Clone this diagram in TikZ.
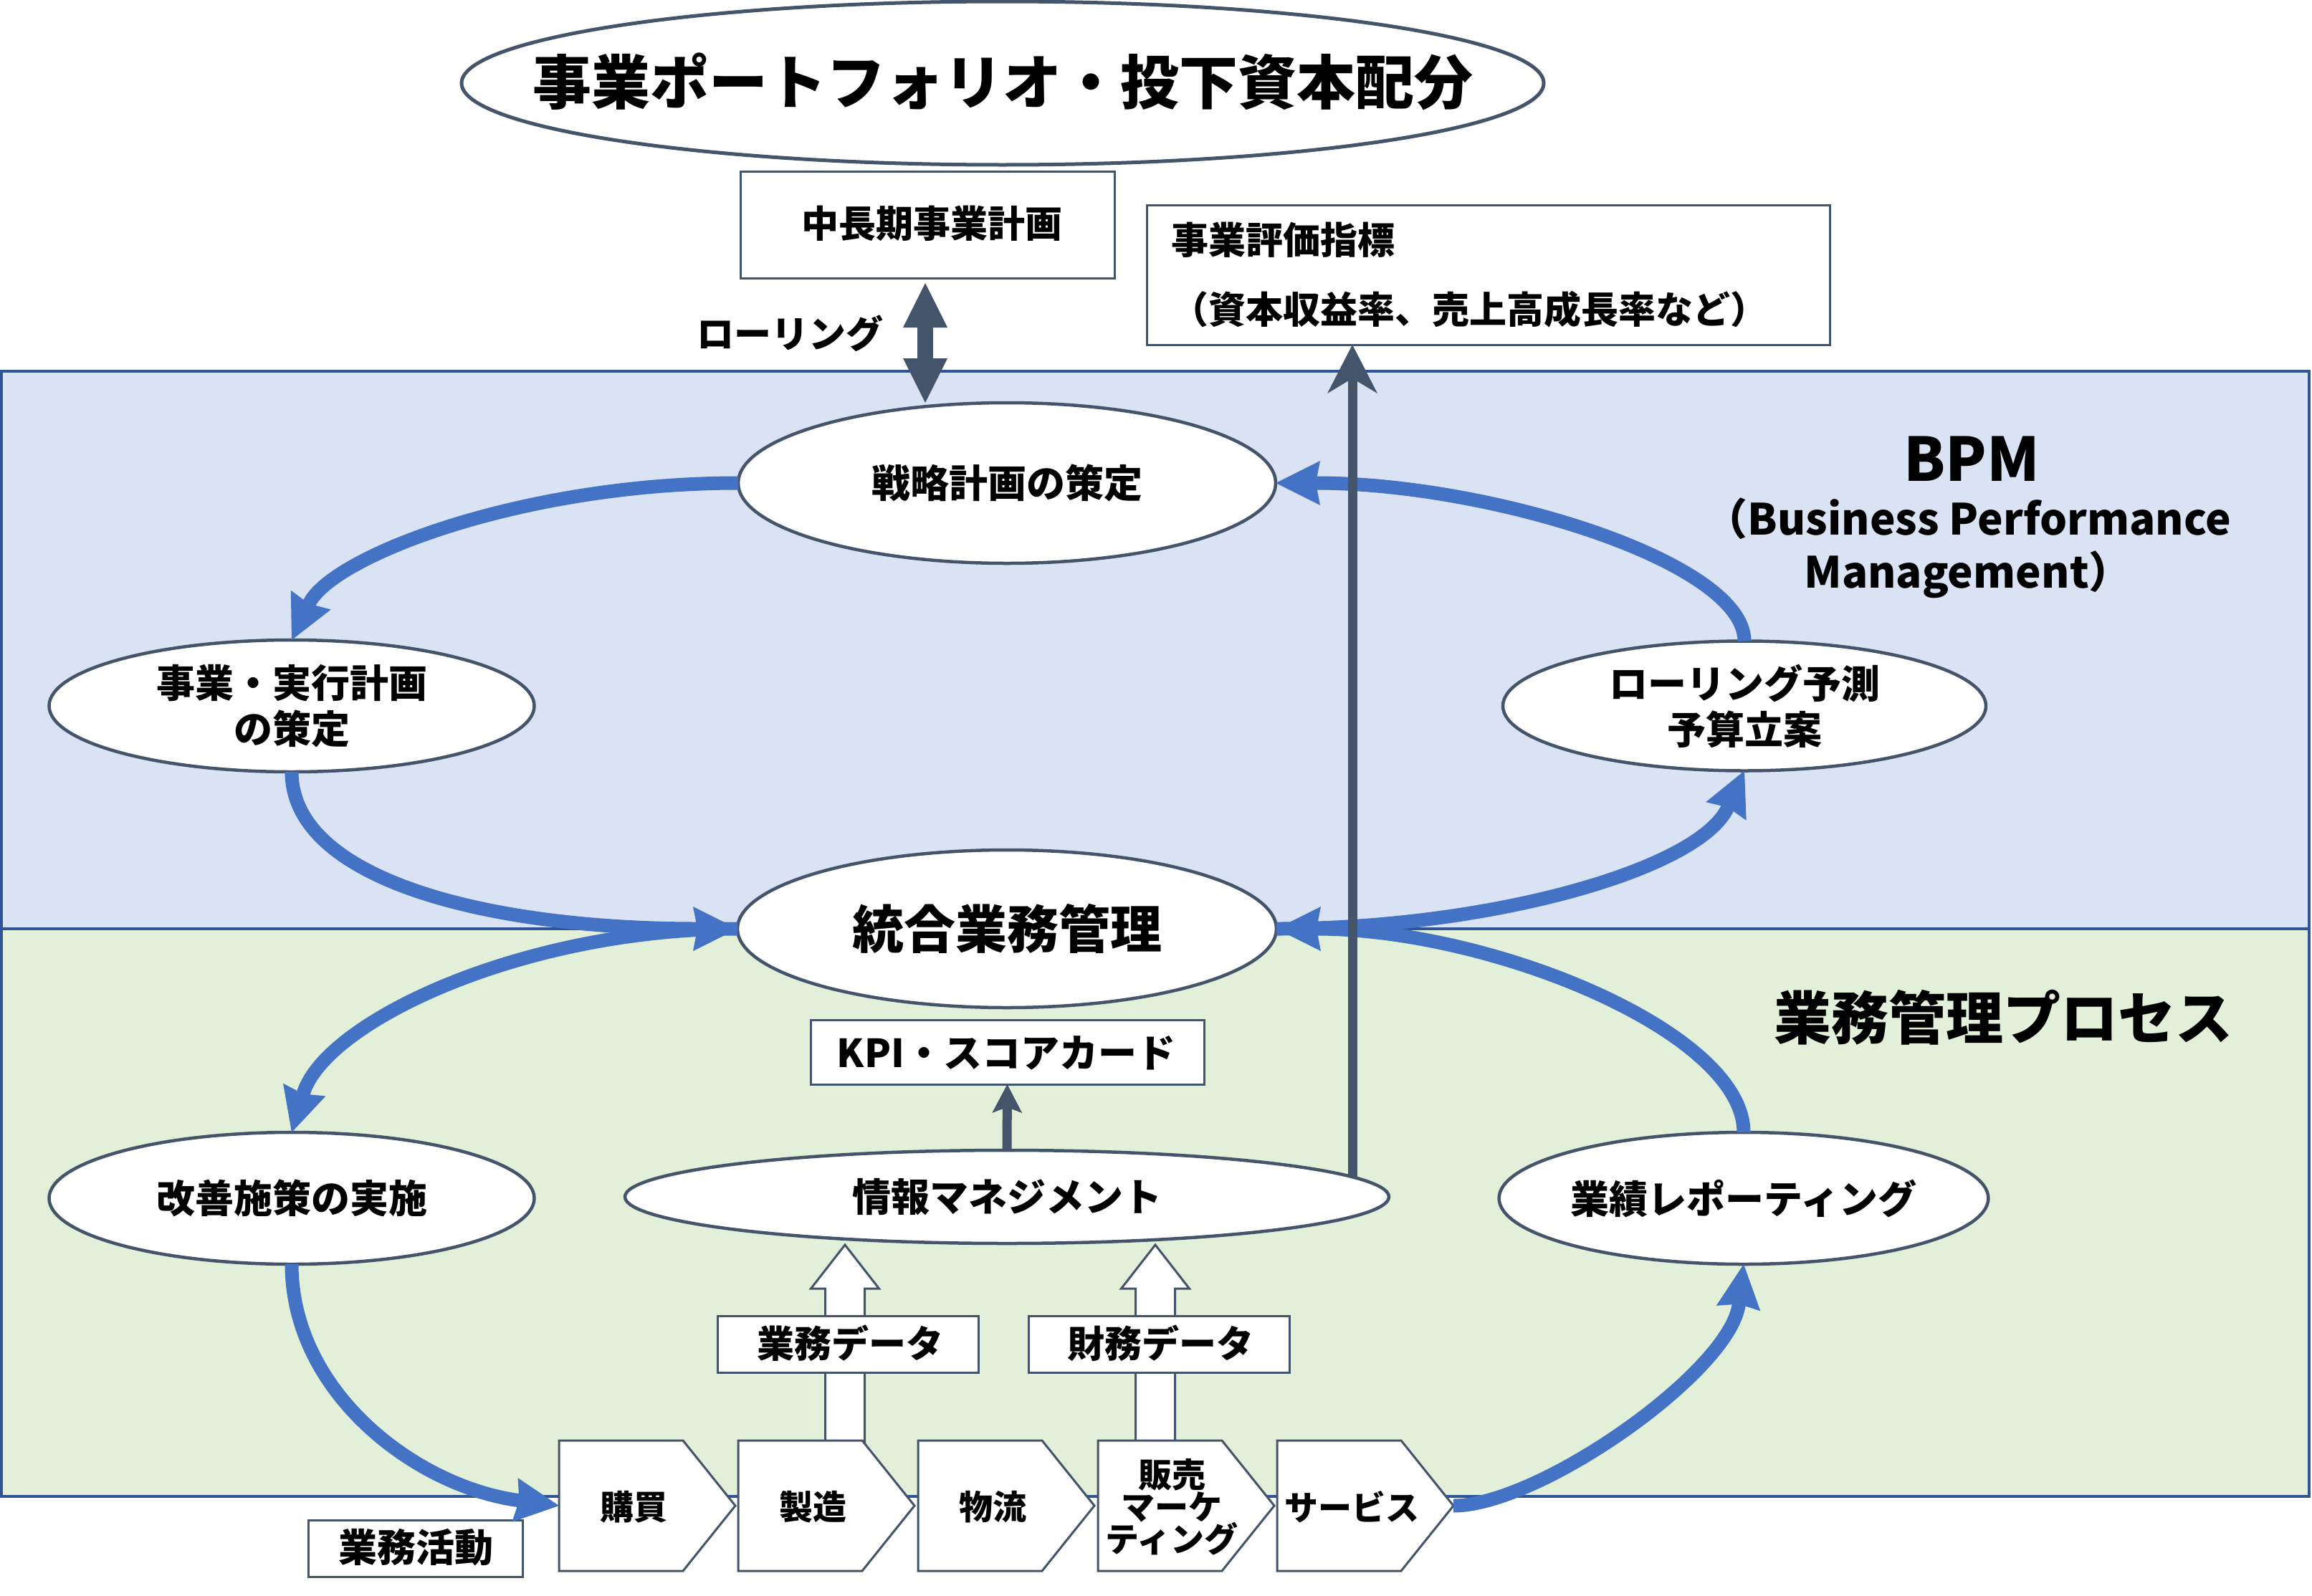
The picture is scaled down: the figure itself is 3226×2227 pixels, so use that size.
\documentclass[tikz,border=0pt]{standalone}
\usepackage{fontspec}
\setmainfont{Noto Sans CJK JP}
\usetikzlibrary{shapes.geometric,arrows.meta}
\definecolor{slate}{HTML}{44546A}
\definecolor{arcblue}{HTML}{4472C4}
\definecolor{regborder}{HTML}{2F5597}
\definecolor{bpmfill}{HTML}{DAE3F3}
\definecolor{opfill}{HTML}{E2F0D9}
\begin{document}
\begin{tikzpicture}[x=1pt,y=-1pt,
  ell/.style={ellipse,draw=slate,line width=4.5pt,fill=white,inner sep=0pt,outer sep=0pt,align=center},
  boxnode/.style={rectangle,draw=slate,line width=3pt,fill=white,inner sep=0pt,outer sep=0pt},
  region/.style={rectangle,draw=regborder,line width=4pt,inner sep=0pt,outer sep=0pt},
  txt/.style={inner sep=0pt,outer sep=0pt,align=center},
  f54/.style={font=\fontsize{54}{64}\selectfont\bfseries},
  f52/.style={font=\fontsize{52}{62}\selectfont\bfseries},
  f47/.style={font=\fontsize{47}{45}\selectfont\bfseries},
  pent/.style={draw=slate,line width=3pt,fill=white,line join=miter},
  blockarrow/.style={draw=slate,line width=3pt,fill=white,line join=miter},
  arc/.style={draw=arcblue,line width=19pt,-{Stealth[length=62pt,width=62pt,inset=6pt,line width=0pt]}},
]
\useasboundingbox (0,0) rectangle (3226,2227);
\fill[white] (0,0) rectangle (3226,2227);

% regions
\node[region,fill=bpmfill,minimum width=3220pt,minimum height=778pt] (bpmreg) at (1612,907) {};
\node[region,fill=opfill,minimum width=3220pt,minimum height=792pt] (opreg) at (1612,1692) {};

% block arrows (data flows)
\draw[blockarrow] (1151.5,2014) -- (1151.5,1798) -- (1131.5,1798) -- (1179,1737) -- (1226.5,1798) -- (1206.5,1798) -- (1206.5,2014) -- cycle;
\draw[blockarrow] (1584.5,2014) -- (1584.5,1798) -- (1564.5,1798) -- (1612,1737) -- (1659.5,1798) -- (1639.5,1798) -- (1639.5,2014) -- cycle;

% value chain pentagons
\foreach \L in {780,1030,1281,1532,1782}{
  \draw[pent] (\L,2010) -- ++(173,0) -- ++(73,91) -- ++(-73,91) -- ++(-173,0) -- cycle;
}
\coordinate (p1w) at (780,2101);
\coordinate (p5e) at (2028,2101);
\node[txt,f47] (v1) at (884,2103) {購買};
\node[txt,f47] (v2) at (1134,2103) {製造};
\node[txt,f47] (v3) at (1385,2103) {物流};
\node[txt,f47] (v4) at (1635,2103) {販売\\マーケ\\ティング};
\node[txt,f47] (v5) at (1886,2103) {サービス};

% boxes
\node[boxnode,minimum width=364pt,minimum height=79pt] (bd) at (1183,1875.5) {};
\node[txt,f52] (bdt) at (1186,1874) {業務データ};
\node[boxnode,minimum width=364pt,minimum height=79pt] (fd) at (1617,1875.5) {};
\node[txt,f52] (fdt) at (1619,1874) {財務データ};
\node[boxnode,minimum width=299pt,minimum height=79pt] (ga) at (579.5,2160.5) {};
\node[txt,f54] (gat) at (580,2159) {業務活動};
\node[boxnode,minimum width=549pt,minimum height=90pt] (kpi) at (1405.5,1468) {};
\node[txt,f54] (kpit) at (1404,1469) {KPI・スコアカード};
\node[boxnode,minimum width=522pt,minimum height=149pt] (c) at (1294,313.5) {};
\node[txt,f52] (ct) at (1300,312) {中長期事業計画};
\node[boxnode,minimum width=953pt,minimum height=195pt] (ev) at (2076.5,383.5) {};
\node[inner sep=0pt,outer sep=0pt,align=left,anchor=west,font=\fontsize{52}{97}\selectfont\bfseries] (evt) at (1634,384) {事業評価指標\\（資本収益率、売上高成長率など）};

% ellipses
\node[ell,line width=5pt,minimum width=1510pt,minimum height=228pt] (title) at (1399,116) {};
\node[txt,font=\fontsize{82}{96}\selectfont\bfseries] (titlet) at (1399,114) {事業ポートフォリオ・投下資本配分};
\node[ell,f54,minimum width=750pt,minimum height=224pt] (s) at (1405,674) {戦略計画の策定};
\node[ell,f54,minimum width=677pt,minimum height=184pt] (j) at (407,985) {事業・実行計画\\の策定};
\node[ell,minimum width=752pt,minimum height=220pt,font=\fontsize{72}{80}\selectfont\bfseries] (t) at (1405,1296) {統合業務管理};
\node[ell,f54,minimum width=674pt,minimum height=181pt] (p) at (2434,985) {ローリング予測\\予算立案};
\node[ell,f54,minimum width=677pt,minimum height=184pt] (k) at (407,1672) {改善施策の実施};
\node[ell,minimum width=1066pt,minimum height=130pt] (m) at (1405,1670) {};
\node[txt,f54] (mt) at (1405,1670) {情報マネジメント};
\node[ell,f54,minimum width=676pt,minimum height=184pt] (r) at (2433,1672) {業績レポーティング};

% labels
\node[txt,f52] (roll) at (1102,465) {ローリング};
\node[txt,font=\fontsize{84}{90}\selectfont\bfseries] (bpm1) at (2751,640) {BPM};
\node[txt,font=\fontsize{60}{74}\selectfont\bfseries] (bpm2) at (2746,765) {（Business Performance\\Management）};
\node[txt,font=\fontsize{80}{90}\selectfont\bfseries] (opl) at (2795,1420) {業務管理プロセス};

% blue cycle arcs
\draw[arc] (s.west) .. controls +(-300,0) and +(56,-117) .. (j.north);
\draw[arc] (j.south) .. controls +(0,150) and +(-350,0) .. (t.west);
\draw[arc] (t.west) .. controls +(-300,0) and +(46,-154) .. (k.north);
\draw[arc] (k.south) .. controls +(0,180) and +(-198,-26) .. (p1w);
\draw[arc] (p5e) .. controls +(120,0) and +(-18,149) .. (r.south);
\draw[arc] (r.north) .. controls +(0,-140) and +(300,0) .. (t.east);
\draw[arc] (t.east) .. controls +(300,0) and +(-62,137) .. (p.south);
\draw[arc] (p.north) .. controls +(0,-110) and +(300,0) .. (s.east);

% dark arrows
\coordinate (dax) at (1291,0);
\draw[slate,line width=22pt,shorten <=7pt,{Triangle[length=62pt,width=62pt,line width=0pt]}-{Triangle[length=62pt,width=62pt,line width=0pt]}] (c.south -| dax) -- (dax |- s.north);
\coordinate (mv) at (1887,1642);
\draw[slate,line width=13pt,-{Stealth[length=68pt,width=70pt,inset=21pt,line width=0pt]}] (mv) -- (ev.south -| mv);
\draw[slate,line width=13pt,-{Stealth[length=40pt,width=42pt,inset=8pt,line width=0pt]}] (m.north) -- (kpi.south);
\end{tikzpicture}
\end{document}
